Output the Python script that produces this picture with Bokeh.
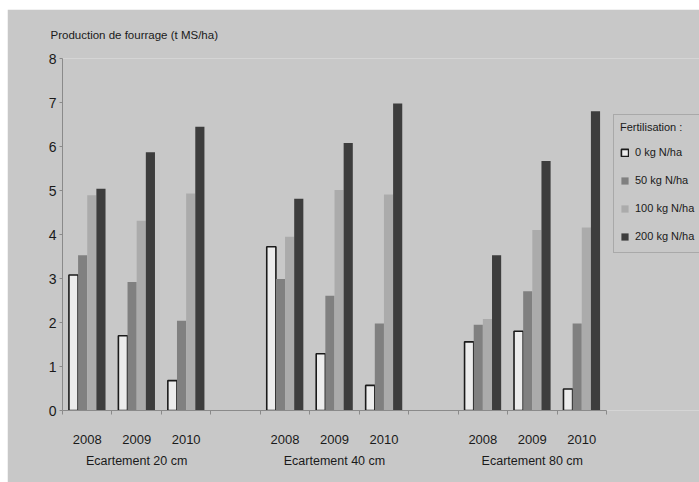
from bokeh.plotting import figure
from bokeh.models import (FixedTicker, LinearAxis, Range1d, Legend, LegendItem,
                          ColumnDataSource)
from bokeh.embed import file_html
from bokeh.resources import INLINE

# ---- data ----
spacings = ["Ecartement 20 cm", "Ecartement 40 cm", "Ecartement 80 cm"]
years = ["2008", "2009", "2010"]
series_names = ["0 kg N/ha", "50 kg N/ha", "100 kg N/ha", "200 kg N/ha"]
# values listed per spacing group, years 2008, 2009, 2010
n0 = [3.08, 1.70, 0.68, 3.72, 1.29, 0.57, 1.56, 1.80, 0.49]
n50 = [3.53, 2.92, 2.04, 2.99, 2.61, 1.98, 1.95, 2.71, 1.98]
n100 = [4.89, 4.31, 4.93, 3.95, 5.01, 4.91, 2.08, 4.10, 4.16]
n200 = [5.04, 5.87, 6.45, 4.81, 6.08, 6.98, 3.53, 5.67, 6.80]
y_ticks = [0, 1, 2, 3, 4, 5, 6, 7, 8]

FONT = "Liberation Sans"
BG = "#c8c8c8"
TXT = "#1a1a1a"

W, H = 692, 473
LEFT, RIGHT = 55, 0
n_slots = 11
axis_px = 544  # pixel length of the category axis
x_end = n_slots * (W - LEFT - RIGHT) / axis_px

p = figure(width=W, height=H, output_backend="svg", toolbar_location=None,
           x_range=Range1d(0, x_end), y_range=Range1d(0, 8),
           min_border_left=LEFT, min_border_right=RIGHT, min_border_top=48,
           min_border_bottom=72, margin=(9, 0, 0, 7))
p.background_fill_color = BG
p.border_fill_color = BG
p.outline_line_color = None
p.grid.visible = False

# slot positions: 3 years per group, 1 empty slot between groups
centers = []
for g in range(len(spacings)):
    for yi in range(len(years)):
        centers.append(g * (len(years) + 1) + yi + 0.5)

bw = 0.185
fills = ["#ececec", "#808080", "#ababab", "#3d3d3d"]
lines = ["#1a1a1a", None, None, None]
renderers = []
for k, vals in enumerate([n0, n50, n100, n200]):
    xs = [c + (k - 1.5) * bw for c in centers]
    src = ColumnDataSource(dict(x=xs, top=vals))
    r = p.vbar(x="x", top="top", width=bw, bottom=0, source=src,
               fill_color=fills[k], line_color=lines[k],
               line_width=1.6 if lines[k] else 0)
    renderers.append(r)

# x axis: years
xa = p.xaxis[0]
xa.bounds = (0, n_slots)
xa.ticker = FixedTicker(ticks=centers,
                        minor_ticks=[i for i in range(0, n_slots + 1)])
xa.major_label_overrides = {c: years[i % 3] for i, c in enumerate(centers)}
xa.major_tick_line_color = None
xa.major_tick_out = 0
xa.minor_tick_out = 4
xa.minor_tick_in = 0
xa.minor_tick_line_color = "#8a8a8a"
xa.axis_line_color = "#8a8a8a"
xa.major_label_standoff = 20
xa.major_label_text_font = FONT
xa.major_label_text_font_size = "13px"
xa.major_label_text_color = TXT

# second row: spacing groups
group_centers = [centers[g * 3 + 1] for g in range(len(spacings))]
xa2 = LinearAxis(ticker=FixedTicker(ticks=group_centers),
                 major_label_overrides={c: s for c, s in zip(group_centers, spacings)})
xa2.axis_line_color = None
xa2.major_tick_line_color = None
xa2.minor_tick_line_color = None
xa2.major_tick_out = 0
xa2.major_label_standoff = 7
xa2.major_label_text_font = FONT
xa2.major_label_text_font_size = "12.5px"
xa2.major_label_text_color = TXT
p.add_layout(xa2, "below")

# y axis
ya = p.yaxis[0]
ya.ticker = FixedTicker(ticks=y_ticks)
ya.minor_tick_line_color = None
ya.axis_line_color = "#8a8a8a"
ya.major_tick_line_color = "#8a8a8a"
ya.major_tick_out = 3
ya.major_tick_in = 0
ya.major_label_standoff = 3
ya.major_label_text_font = FONT
ya.major_label_text_font_size = "14px"
ya.major_label_text_color = TXT

# title (axis unit)
p.title.text = "Production de fourrage (t MS/ha)"
p.title.text_font = FONT
p.title.text_font_size = "11.5px"
p.title.text_font_style = "normal"
p.title.text_color = TXT
p.title.align = "left"
p.title.offset = -12
p.title.standoff = 35

legend = Legend(items=[LegendItem(label=n, renderers=[r])
                       for n, r in zip(series_names, renderers)],
                title="Fertilisation :", location=(551, 157))
legend.title_text_font = FONT
legend.title_text_font_size = "11px"
legend.title_text_font_style = "normal"
legend.title_text_color = TXT
legend.title_standoff = 9
legend.label_text_font = FONT
legend.label_text_font_size = "11px"
legend.label_text_color = TXT
legend.glyph_width = 9
legend.glyph_height = 9
legend.label_height = 20
legend.spacing = 8
legend.label_standoff = 6
legend.padding = 6
legend.margin = 0
legend.background_fill_color = BG
legend.background_fill_alpha = 1
legend.border_line_color = "#8a8a8a"
legend.border_line_width = 1.5
p.add_layout(legend, "center")

open("out.html", "w").write(file_html(p, INLINE))
